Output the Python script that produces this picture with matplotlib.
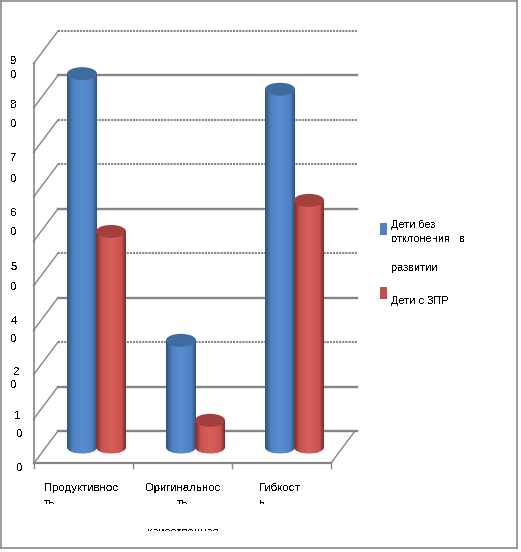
import numpy as np
import matplotlib
matplotlib.use('Agg')
import matplotlib.pyplot as plt
from matplotlib.patches import Ellipse, Rectangle
from matplotlib.lines import Line2D
from matplotlib.transforms import Bbox

W, H = 521, 552

categories = ['Продуктивнос', 'Оригинальнос', 'Гибкост']
categories_wrap = ['ть', 'ть', 'ь']
blue_values = [84, 24, 80.5]
red_values = [48.5, 6, 55.5]
y_ticks = list(range(0, 100, 10))
# подписи оси разорваны на две строки, как на исходной картинке
y_label_text = ['9', '0', '8', '0', '7', '0', '6', '0', '5', '0', '4', '0', '2', '0', '1', '0']
legend_text = ['Дети без', 'отклонения   в', 'развитии', 'Дети с ЗПР']
axis_title = 'качественная'

# положения строк в пикселях
y_label_pos = [61, 75, 105, 124, 158, 179, 213, 232, 267, 287, 321, 339, 372, 385, 416, 434]
legend_pos = [225, 239, 268, 301]

BLUE = ['#2f5680', '#4f81c4', '#5a8dcf', '#3f6c9e']
RED = ['#7d2f2d', '#cb5450', '#d65f5a', '#a33f3c']

fig = plt.figure(figsize=(W / 100, H / 100), dpi=100, facecolor='white')


def px_text(x, y, s, size=8.2, ha='left'):
    t = fig.text(x / W, 1 - y / H, s, fontsize=size, family='Liberation Sans', color='black',
                 va='center', ha=ha)
    t.set_antialiased(False)
    return t


# рамка картинки
for xs, ys in [((1, 1), (0, 548)), ((517, 517), (0, 548)), ((1, 517), (548, 548)), ((1, 517), (0.5, 0.5))]:
    fig.add_artist(Line2D([x / W for x in xs], [1 - y / H for y in ys], color='#8c8c8c', lw=1.2))

# оси: передняя плоскость графика
left, right, bottom, top = 34, 331, 463, 63
ax = fig.add_axes([left / W, 1 - bottom / H, (right - left) / W, (bottom - top) / H])
ax.axis('off')

px_x = 3 / (right - left)
px_y = 90 / (bottom - top)
dx = 24 * px_x   # глубина по x
dy = 32 * px_y   # глубина по y
grid_col = '#858585'

for v in y_ticks:
    heavy = v in (0, 10, 30, 50, 80)
    ax.plot([dx, 3 + dx + 2 * px_x], [v + dy, v + dy], color=grid_col, clip_on=False,
            lw=1.7 if heavy else 1.5, ls='-' if heavy else (0, (1.0, 0.5)), zorder=1)
    ax.plot([0, dx], [v, v + dy], color=grid_col, lw=1.0, clip_on=False, zorder=1)
    ax.plot([-1 * px_x, 0], [v, v], color=grid_col, lw=1.0, clip_on=False, zorder=1)

# пол и передние оси
ax.plot([0, 0], [0, 90], color=grid_col, lw=1.2, clip_on=False, zorder=1)
ax.plot([0, 3], [0, 0], color=grid_col, lw=1.6, clip_on=False, zorder=1)
ax.plot([3, 3 + dx], [0, dy], color=grid_col, lw=1.0, clip_on=False, zorder=1)
for i in range(4):
    ax.plot([i, i], [0, -5 * px_y], color=grid_col, lw=1.0, clip_on=False, zorder=1)

bar_w = 30 * px_x
ell_h = 13 * px_y


def cylinder(xc, value, cols, z):
    base = dy / 2
    top_y = value + dy / 2
    x0 = xc - bar_w / 2
    grad = np.linspace(0, 1, 40)
    rgb = np.array([matplotlib.colors.to_rgb(c) for c in cols[:3]])
    img = np.zeros((1, 40, 3))
    for ch in range(3):
        img[0, :, ch] = np.interp(grad, [0, 0.2, 0.5, 0.85, 1],
                                  [rgb[0, ch], rgb[1, ch], rgb[2, ch], rgb[1, ch], rgb[0, ch]])
    ax.imshow(img, extent=(x0, x0 + bar_w, base, top_y), aspect='auto', zorder=z,
              interpolation='bilinear', clip_on=False)
    # низ цилиндра
    low = Ellipse((xc, base), bar_w, ell_h, facecolor=cols[1], edgecolor='none', zorder=z - 0.1, clip_on=False)
    ax.add_patch(low)
    low_img = ax.imshow(img, extent=(x0, x0 + bar_w, base - ell_h / 2, base), aspect='auto',
                        zorder=z - 0.05, interpolation='bilinear')
    low_img.set_clip_path(low)
    ax.add_patch(Ellipse((xc, top_y), bar_w, ell_h, facecolor=cols[3], edgecolor='none', zorder=z + 0.1,
                         clip_on=False))


for i in range(3):
    xc = i + 0.5 + dx / 2 + 1 * px_x
    cylinder(xc - 14.5 * px_x, blue_values[i], BLUE, 3 + i * 2)
    cylinder(xc + 14.5 * px_x, red_values[i], RED, 4 + i * 2)
ax.set_xlim(0, 3)
ax.set_ylim(0, 90)
ax.set_aspect('auto')

# подписи оси y
for i, (s, y) in enumerate(zip(y_label_text, y_label_pos)):
    px_text(17 if i >= 12 and i % 2 == 0 else (20 if i >= 14 else 14), y, s, ha='center')
px_text(20, 468, '0', ha='center')

# подписи категорий, вторая строка обрезана снизу
label_x = [44, 146, 259]
wrap_x = [44, 177, 259]
for i in range(3):
    px_text(label_x[i], 488, categories[i])
    t = px_text(wrap_x[i], 503, categories_wrap[i])
    t.set_clip_box(Bbox([[0, H - 504], [W, H]]))
    t.set_clip_on(True)

t = px_text(183, 532, axis_title, ha='center')
t.set_clip_box(Bbox([[0, H - 531], [W, H]]))
t.set_clip_on(True)

# легенда
for s, y in zip(legend_text, legend_pos):
    px_text(391, y, s, size=7.9)
fig.add_artist(Rectangle((380 / W, 1 - 235 / H), 7 / W, 12 / H, transform=fig.transFigure, color='#4f81bd', lw=0))
fig.add_artist(Rectangle((380 / W, 1 - 299 / H), 7 / W, 12 / H, transform=fig.transFigure, color='#c0504d', lw=0))

fig.savefig('out.png', dpi=100)
